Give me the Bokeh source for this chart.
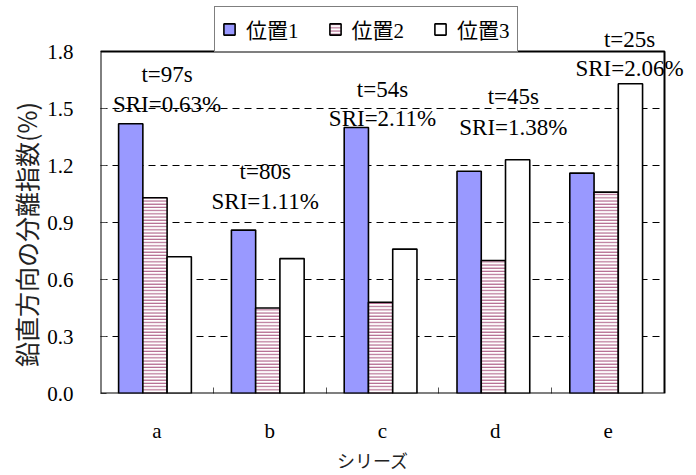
from bokeh.plotting import figure
from bokeh.models import (ColumnDataSource, FixedTicker, Legend, LegendItem,
                          Range1d, BoxAnnotation)
from bokeh.core.properties import value
from bokeh.embed import file_html
from bokeh.resources import INLINE

# ---- data ----
categories = ["a", "b", "c", "d", "e"]
series_names = ["位置1", "位置2", "位置3"]
pos1 = [1.42, 0.86, 1.40, 1.17, 1.16]
pos2 = [1.03, 0.45, 0.48, 0.70, 1.06]
pos3 = [0.72, 0.71, 0.76, 1.23, 1.63]
t_labels = ["t=97s", "t=80s", "t=54s", "t=45s", "t=25s"]
sri_labels = ["SRI=0.63%", "SRI=1.11%", "SRI=2.11%", "SRI=1.38%", "SRI=2.06%"]
y_ticks = [0.0, 0.3, 0.6, 0.9, 1.2, 1.5, 1.8]
y_title = "鉛直方向の分離指数(%)"
x_title = "シリーズ"

# annotation placement (layout, not data)
label_dx = [0.09, -0.04, 0.0, 0.16, 0.19]
t_y = [1.679, 1.168, 1.600, 1.563, 1.863]
sri_y = [1.521, 1.011, 1.447, 1.400, 1.710]
# invisible padding that moves the axis titles off the centre of the drawing area
Y_PAD = "\u3000\u3000\u3000"
X_PAD = "\u3000\u3000\u2002"

SERIF = "Liberation Serif"
CJK = "Noto Sans CJK JP"
MIX = "Liberation Serif, Noto Sans CJK JP"

n = len(categories)
y_min, y_max = y_ticks[0], y_ticks[-1]
centers = [i + 0.5 for i in range(n)]
bw = 0.215
shift = -0.017
offsets = [-bw + shift, shift, bw + shift]

# the drawing area extends past the boxed plot so that labels may overhang it
FW, FH = 590, 393
x_view = n * FW / 564.0
y_view = y_max * FH / 342.0

p = figure(frame_width=FW, frame_height=FH, output_backend="svg",
           toolbar_location=None,
           x_range=Range1d(0, x_view), y_range=Range1d(y_min, y_view),
           min_border_left=100, min_border_right=2, min_border_top=0,
           min_border_bottom=82)
p.background_fill_color = "white"
p.border_fill_color = "white"
p.outline_line_color = None

# dashed horizontal grid lines (inner ticks only)
g = y_ticks[1:-1]
p.segment(x0=[0] * len(g), x1=[n] * len(g), y0=g, y1=g,
          line_color="black", line_width=1, line_dash="7 5")

fills = ["#9999FF", "white", "white"]
hatches = [None, "horizontal_line", None]
renderers = []
for k, vals in enumerate([pos1, pos2, pos3]):
    src = ColumnDataSource(dict(x=[c + offsets[k] for c in centers], top=vals))
    kw = dict(x="x", top="top", bottom=0, width=bw, source=src,
              fill_color=fills[k], line_color="black", line_width=1.6)
    if hatches[k]:
        kw.update(hatch_pattern=hatches[k], hatch_color="#993366",
                  hatch_scale=3.2, hatch_weight=1.1, hatch_alpha=0.8)
    r = p.vbar(**kw)
    renderers.append(r)

# annotation texts as glyphs
lab_src = ColumnDataSource(dict(
    x=[c + d for c, d in zip(centers, label_dx)] * 2,
    y=t_y + sri_y, text=t_labels + sri_labels))
p.text(x="x", y="y", text="text", source=lab_src, text_align="center",
       text_baseline="middle", text_font=value(SERIF),
       text_font_size=value("23px"), text_color="black")

# box around the plot area
p.add_layout(BoxAnnotation(left=0, right=n, bottom=y_min, top=y_max,
                           fill_alpha=0, line_color="black", line_width=2,
                           line_alpha=1))

# axes
p.xaxis.bounds = (0, n)
p.xaxis.ticker = FixedTicker(ticks=centers, minor_ticks=list(range(1, n)))
p.xaxis.major_label_overrides = {c: lab for c, lab in zip(centers, categories)}
p.xaxis.major_tick_in = 0
p.xaxis.major_tick_out = 0
p.xaxis.minor_tick_in = 6
p.xaxis.minor_tick_out = 0
p.xaxis.minor_tick_line_color = "#555555"
p.xaxis.axis_line_color = None
p.xaxis.major_label_standoff = 25
p.xaxis.major_label_text_font = SERIF
p.xaxis.major_label_text_font_size = "21px"
p.xaxis.major_label_text_color = "black"
p.xaxis.axis_label = x_title + X_PAD
p.xaxis.axis_label_text_font = CJK
p.xaxis.axis_label_text_font_size = "18px"
p.xaxis.axis_label_text_font_style = "normal"
p.xaxis.axis_label_text_color = "#222222"
p.xaxis.axis_label_standoff = 1

p.yaxis.bounds = (y_min, y_max)
p.yaxis.ticker = FixedTicker(ticks=y_ticks, minor_ticks=[])
p.yaxis.major_label_overrides = {t: f"{t:.1f}" for t in y_ticks}
p.yaxis.major_tick_in = 6
p.yaxis.major_tick_out = 0
p.yaxis.major_tick_line_color = "#555555"
p.yaxis.axis_line_color = None
p.yaxis.major_label_standoff = 27
p.yaxis.major_label_text_font = SERIF
p.yaxis.major_label_text_font_size = "21px"
p.yaxis.major_label_text_color = "black"
p.yaxis.axis_label = y_title + Y_PAD
p.yaxis.axis_label_text_font = CJK
p.yaxis.axis_label_text_font_size = "25px"
p.yaxis.axis_label_text_font_style = "normal"
p.yaxis.axis_label_text_color = "#222222"
p.yaxis.axis_label_standoff = 0

p.xgrid.grid_line_color = None
p.ygrid.grid_line_color = None

# legend
items = [LegendItem(label=nm, renderers=[r]) for nm, r in zip(series_names, renderers)]
legend = Legend(items=items, orientation="horizontal", location=(114, 341),
                margin=0, padding=7, spacing=29, label_standoff=10,
                glyph_width=14, glyph_height=14, label_height=18,
                label_text_font=MIX, label_text_font_size="21px",
                label_text_color="black",
                border_line_color="black", border_line_width=1,
                background_fill_color="white", background_fill_alpha=1.0)
p.add_layout(legend, "center")

open("out.html", "w").write(file_html(p, INLINE))
